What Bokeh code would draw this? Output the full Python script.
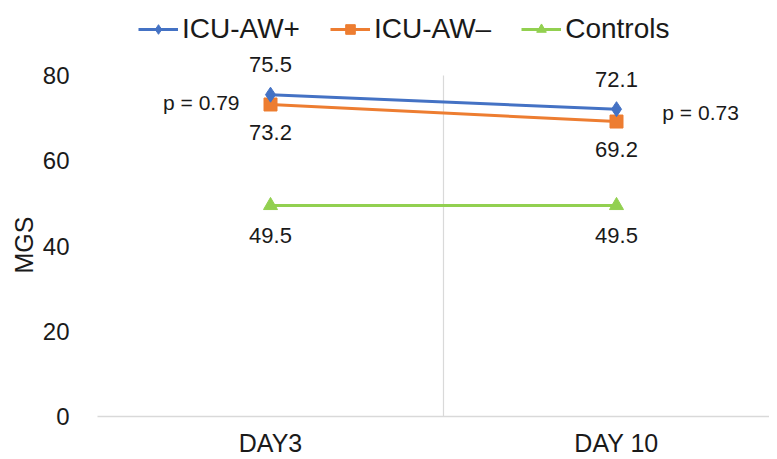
from bokeh.plotting import figure
from bokeh.models import Range1d, FixedTicker, Legend, LegendItem, Label, ColumnDataSource, LabelSet, Title
from bokeh.core.properties import value
from bokeh.embed import file_html
from bokeh.resources import INLINE

categories = ["DAY3", "DAY 10"]
x_pos = [0.5, 1.5]
icu_aw_plus = [75.5, 72.1]
icu_aw_minus = [73.2, 69.2]
controls = [49.5, 49.5]
p_values = ["p = 0.79", "p = 0.73"]
y_ticks = [0, 20, 40, 60, 80]
category_boundaries = [1.0]
y_title = "MGS"

FONT = "Liberation Sans"
BLUE = "#4472C4"
ORANGE = "#ED7D31"
GREEN = "#92D050"
TXT = "#1a1a1a"

PX_PER_UNIT = 341 / 80.0
FRAME_H = 408
FRAME_W = 672

p = figure(width=769, height=451, output_backend="svg", toolbar_location=None,
           x_range=Range1d(0, FRAME_W / 346), y_range=Range1d(0, FRAME_H / PX_PER_UNIT),
           frame_width=FRAME_W, frame_height=FRAME_H,
           min_border_left=97, min_border_right=0, min_border_top=8, min_border_bottom=35)
p.outline_line_color = None
p.xgrid.grid_line_color = None
p.ygrid.grid_line_color = None

p.xaxis.ticker = FixedTicker(ticks=x_pos)
p.xaxis.major_label_overrides = {x: c for x, c in zip(x_pos, categories)}
p.xaxis.major_tick_line_color = None
p.xaxis.minor_tick_line_color = None
p.xaxis.axis_line_color = "#d9d9d9"
p.xaxis.axis_line_width = 1.5
p.xaxis.major_label_text_font = FONT
p.xaxis.major_label_text_font_size = "25px"
p.xaxis.major_label_text_color = TXT
p.xaxis.major_label_standoff = 6

p.yaxis.ticker = FixedTicker(ticks=y_ticks)
p.yaxis.major_tick_line_color = None
p.yaxis.minor_tick_line_color = None
p.yaxis.axis_line_color = None
p.yaxis.major_label_text_font = FONT
p.yaxis.major_label_text_font_size = "24px"
p.yaxis.major_label_text_color = TXT
p.yaxis.major_label_standoff = 22

# y axis title, centred on the 0-80 plot area as in the reference
p.add_layout(Title(text=y_title, align="left", offset=143, text_font=FONT,
                   text_font_size="25px", text_font_style="normal", text_color=TXT,
                   standoff=4), "left")

p.segment(x0=category_boundaries, y0=[y_ticks[0]], x1=category_boundaries, y1=[y_ticks[-1]],
          line_color="#d9d9d9", line_width=1.2)

src = ColumnDataSource(dict(x=x_pos, a=icu_aw_plus, b=icu_aw_minus, c=controls,
                            ta=[f"{v}" for v in icu_aw_plus],
                            tb=[f"{v}" for v in icu_aw_minus],
                            tc=[f"{v}" for v in controls]))

l_c = p.line("x", "c", source=src, line_color=GREEN, line_width=3)
m_c = p.scatter("x", "c", source=src, marker="triangle", size=14, fill_color=GREEN, line_color=GREEN)
l_b = p.line("x", "b", source=src, line_color=ORANGE, line_width=3)
m_b = p.scatter("x", "b", source=src, marker="square", size=13, fill_color=ORANGE, line_color=ORANGE)
l_a = p.line("x", "a", source=src, line_color=BLUE, line_width=3)
m_a = p.scatter("x", "a", source=src, marker="diamond", size=15, fill_color=BLUE, line_color=BLUE)

common = dict(source=src, text_font=value(FONT), text_font_size="22px", text_color=TXT,
              text_align="center", text_baseline="middle")
p.add_layout(LabelSet(x="x", y="a", text="ta", y_offset=30, **common))
p.add_layout(LabelSet(x="x", y="b", text="tb", y_offset=-28, **common))
p.add_layout(LabelSet(x="x", y="c", text="tc", y_offset=-30, **common))

p.add_layout(Label(x=0.30, y=73.7, text=p_values[0], text_font=FONT, text_font_size="21px",
                   text_color=TXT, text_align="center", text_baseline="middle"))
p.add_layout(Label(x=1.743, y=71.3, text=p_values[1], text_font=FONT, text_font_size="21px",
                   text_color=TXT, text_align="center", text_baseline="middle"))

legend = Legend(items=[LegendItem(label="ICU-AW+", renderers=[l_a, m_a]),
                       LegendItem(label="ICU-AW\u2013", renderers=[l_b, m_b]),
                       LegendItem(label="Controls", renderers=[l_c, m_c])],
                orientation="horizontal", location=(41, 371),
                label_text_font=FONT, label_text_font_size="28px", label_text_color=TXT,
                glyph_width=40, glyph_height=24, spacing=30, label_standoff=4,
                border_line_color=None, background_fill_alpha=0, padding=0, margin=0)
p.add_layout(legend, "center")

open("out.html", "w").write(file_html(p, INLINE))
